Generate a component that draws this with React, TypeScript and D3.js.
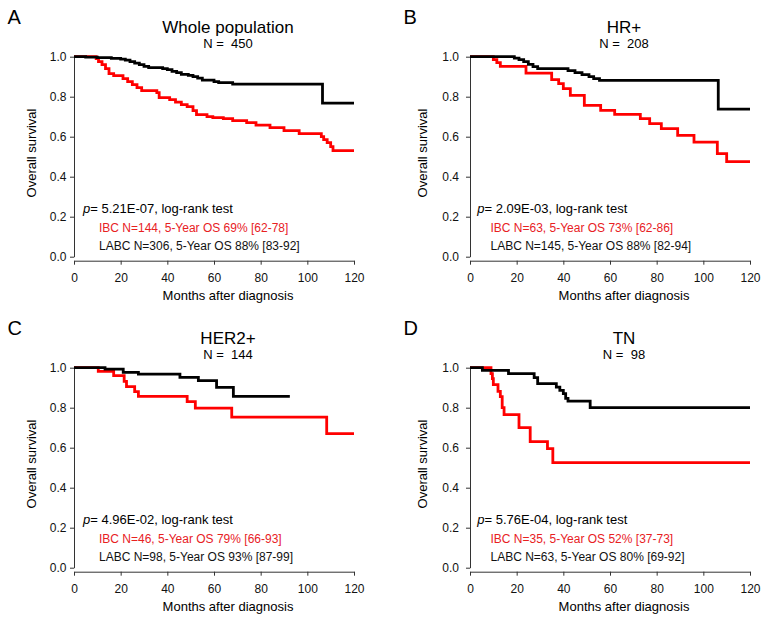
import React, { useEffect, useRef } from 'react';
import * as d3 from 'd3';

// Kaplan-Meier steps: [month, survival]
const ibcWhole = [[0, 1], [9.5, 0.99], [10.5, 0.975], [12, 0.96], [13.5, 0.94], [15, 0.915], [17, 0.905], [21, 0.89], [23, 0.875], [25, 0.86], [27, 0.845], [29, 0.83], [35.5, 0.82], [36.5, 0.795], [41, 0.785], [43.5, 0.773], [46, 0.76], [48.5, 0.75], [51, 0.73], [52.5, 0.71], [57, 0.7], [59.5, 0.695], [64, 0.69], [68, 0.68], [74, 0.67], [78, 0.658], [84, 0.645], [90, 0.63], [96.5, 0.615], [106, 0.6], [107, 0.585], [108.5, 0.57], [110, 0.55], [111, 0.53], [120, 0.53]];
const labcWhole = [[0, 1], [5, 0.998], [10, 0.995], [16, 0.992], [20, 0.988], [22, 0.983], [24, 0.975], [26, 0.968], [28, 0.96], [30, 0.952], [32, 0.945], [38, 0.94], [40, 0.935], [42, 0.927], [44, 0.92], [46, 0.912], [49, 0.907], [51, 0.9], [53, 0.893], [55, 0.883], [60, 0.875], [62, 0.87], [68, 0.863], [106.5, 0.768], [120, 0.768]];

const ibcHR = [[0, 1], [10, 0.985], [11.5, 0.97], [13, 0.952], [24, 0.918], [35, 0.885], [38, 0.865], [40, 0.84], [43, 0.807], [49, 0.757], [56, 0.732], [62, 0.712], [73, 0.69], [77, 0.665], [82, 0.64], [89, 0.607], [96, 0.573], [106, 0.515], [110, 0.475], [120, 0.475]];
const labcHR = [[0, 1], [19, 0.993], [21, 0.985], [23, 0.975], [25, 0.962], [27, 0.95], [29, 0.94], [42, 0.93], [45, 0.92], [48, 0.91], [51, 0.9], [53, 0.89], [55.5, 0.882], [106.4, 0.738], [120, 0.738]];

const ibcHER2 = [[0, 1], [10.4, 0.982], [17, 0.96], [21.5, 0.932], [22.5, 0.905], [26, 0.88], [27.6, 0.857], [48.5, 0.83], [52, 0.798], [67.6, 0.753], [108.3, 0.67], [120, 0.67]];
const labcHER2 = [[0, 1], [13.3, 0.993], [21.1, 0.977], [27.6, 0.968], [45.4, 0.952], [53.3, 0.935], [61.1, 0.902], [68.3, 0.857], [92.5, 0.857]];

const ibcTN = [[0, 1], [9, 0.97], [9.6, 0.945], [10, 0.915], [12, 0.882], [13, 0.855], [13.8, 0.8], [14.6, 0.765], [21, 0.7], [25.8, 0.63], [33.2, 0.595], [35.5, 0.525], [120, 0.525]];
const labcTN = [[0, 1], [5.3, 0.987], [16.5, 0.97], [27.5, 0.95], [29, 0.92], [37, 0.903], [38.5, 0.887], [40, 0.87], [41, 0.847], [42, 0.833], [51.5, 0.8], [120, 0.8]];

const panelLetters = ['A', 'B', 'C', 'D'];
const panelTitles = ['Whole population', 'HR+', 'HER2+', 'TN'];
const panelN = [450, 208, 144, 98];
const pValues = ['5.21E-07', '2.09E-03', '4.96E-02', '5.76E-04'];
const ibcLabels = [
  'IBC N=144, 5-Year OS 69% [62-78]',
  'IBC N=63, 5-Year OS 73% [62-86]',
  'IBC N=46, 5-Year OS 79% [66-93]',
  'IBC N=35, 5-Year OS 52% [37-73]',
];
const labcLabels = [
  'LABC N=306, 5-Year OS 88% [83-92]',
  'LABC N=145, 5-Year OS 88% [82-94]',
  'LABC N=98, 5-Year OS 93% [87-99]',
  'LABC N=63, 5-Year OS 80% [69-92]',
];
const ibcSeries = [ibcWhole, ibcHR, ibcHER2, ibcTN];
const labcSeries = [labcWhole, labcHR, labcHER2, labcTN];
const xTicks = [0, 20, 40, 60, 80, 100, 120];
const yTicks = [0, 0.2, 0.4, 0.6, 0.8, 1.0];

const FONT = '"Liberation Sans", Arial, Helvetica, sans-serif';

// left column / right column small layout differences
const colLayout = [
  { x0: 74, tickPad: 3.5, ylabX: 31.7, pX: 83, ibcX: 99 },
  { x0: 470, tickPad: 7, ylabX: 422.3, pX: 477.3, ibcX: 490.5 },
];

const App = () => {
  const ref = useRef<SVGSVGElement>(null);

  useEffect(() => {
    const svg = d3.select(ref.current);
    svg.selectAll('*').remove();

    panelTitles.forEach((title, i) => {
      const col = i % 2;
      const row = Math.floor(i / 2);
      const L = colLayout[col];
      const g = svg.append('g').attr('transform', `translate(0,${row * 311})`);

      const x = d3.scaleLinear().domain([0, 120]).range([L.x0, L.x0 + 280]);
      const y = d3.scaleLinear().domain([0, 1]).range([256.7, 56.7]);

      // panel letter
      g.append('text')
        .attr('x', L.x0 - 66.5)
        .attr('y', 24)
        .style('font-size', '20px')
        .text(panelLetters[i]);

      // title
      g.append('text')
        .attr('x', L.x0 + 154)
        .attr('y', 33.3)
        .attr('text-anchor', 'middle')
        .style('font-size', '17px')
        .text(title);
      g.append('text')
        .attr('x', L.x0 + 154)
        .attr('y', 48.3)
        .attr('text-anchor', 'middle')
        .style('font-size', '13px')
        .style('white-space', 'pre')
        .text(`N =  ${panelN[i]}`);

      // y axis
      const yAxis = g.append('g')
        .attr('transform', `translate(${L.x0},0)`)
        .call(d3.axisLeft(y).tickValues(yTicks).tickFormat(d3.format('.1f')).tickSize(4).tickSizeOuter(0).tickPadding(L.tickPad));
      yAxis.selectAll('text').style('font-size', '12px').style('font-family', FONT).attr('fill', '#111');
      yAxis.selectAll('path, line').attr('stroke', '#333');

      // x axis
      const xAxis = g.append('g')
        .attr('transform', 'translate(0,260.7)')
        .call(d3.axisBottom(x).tickValues(xTicks).tickSize(4).tickSizeOuter(0).tickPadding(8.5));
      xAxis.selectAll('text').style('font-size', '12px').style('font-family', FONT).attr('fill', '#111');
      xAxis.selectAll('path, line').attr('stroke', '#333');

      // axis titles
      g.append('text')
        .attr('x', L.x0 + 154)
        .attr('y', 299.5)
        .attr('text-anchor', 'middle')
        .style('font-size', '13px')
        .text('Months after diagnosis');
      g.append('text')
        .attr('transform', `translate(${L.ylabX},153) rotate(-90)`)
        .attr('text-anchor', 'middle')
        .attr('dy', '0.35em')
        .style('font-size', '13px')
        .text('Overall survival');

      // survival curves
      const line = d3.line<number[]>()
        .x(d => x(d[0]))
        .y(d => y(d[1]))
        .curve(d3.curveStepAfter);

      g.append('path')
        .datum(ibcSeries[i])
        .attr('fill', 'none')
        .attr('stroke', '#ff0000')
        .attr('stroke-width', 2.8)
        .attr('d', line);
      g.append('path')
        .datum(labcSeries[i])
        .attr('fill', 'none')
        .attr('stroke', '#000')
        .attr('stroke-width', 2.8)
        .attr('d', line);

      // annotations
      const pText = g.append('text')
        .attr('x', L.pX)
        .attr('y', 213.3)
        .style('font-size', '13px');
      pText.append('tspan').style('font-style', 'italic').text('p');
      pText.append('tspan').text(`= ${pValues[i]}, log-rank test`);

      g.append('text')
        .attr('x', L.ibcX)
        .attr('y', 232.3)
        .attr('fill', '#e8211f')
        .style('font-size', '12px')
        .text(ibcLabels[i]);
      g.append('text')
        .attr('x', L.ibcX)
        .attr('y', 250)
        .attr('fill', '#111')
        .style('font-size', '12px')
        .text(labcLabels[i]);
    });
  }, []);

  return (
    <svg
      ref={ref}
      width={767}
      height={622}
      style={{ position: 'absolute', left: 0, top: 0, background: '#fff', fontFamily: FONT }}
    />
  );
};

export default App;
